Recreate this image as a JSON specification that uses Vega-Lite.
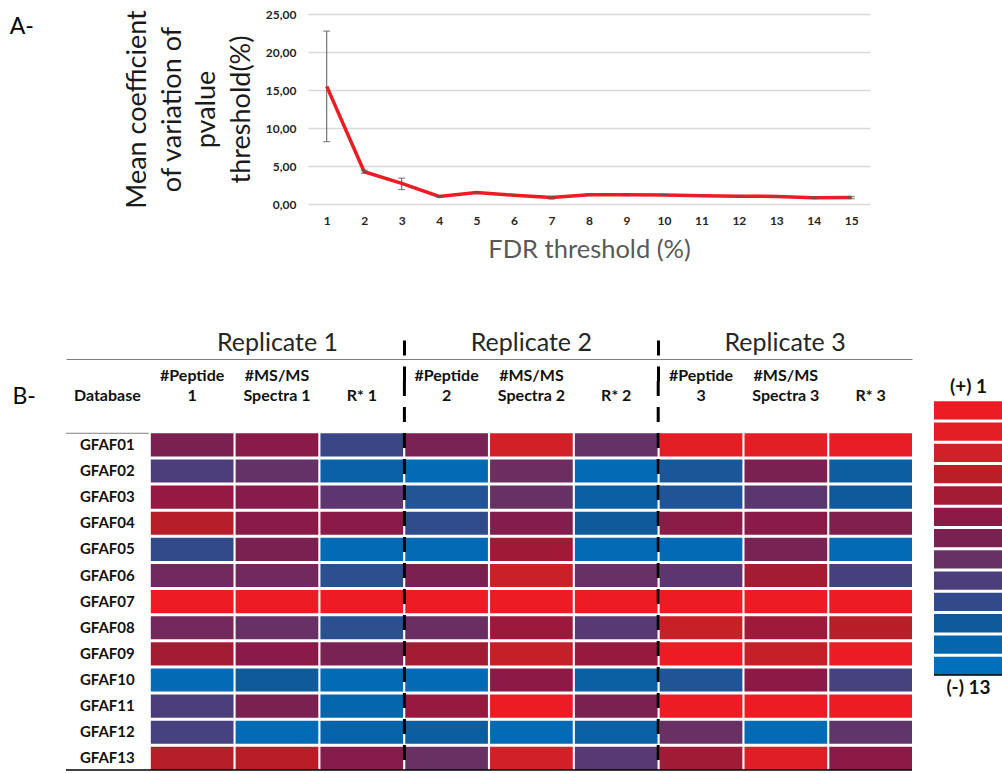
{
  "$schema": "https://vega.github.io/schema/vega-lite/v6.json",
  "padding": {"left": 9, "top": 6, "right": 0, "bottom": 0},
  "background": "white",
  "config": {
    "view": {"stroke": null},
    "font": "Lato",
    "axis": {"labelFont": "Lato", "titleFont": "Lato"},
    "title": {"font": "Lato"},
    "text": {"font": "Lato"}
  },
  "spacing": 65,
  "vconcat": [
    {
      "bounds": "flush",
      "spacing": 0,
      "hconcat": [
        {
          "width": 242,
          "height": 190,
          "title": {"text": "A-", "orient": "left", "anchor": "end", "angle": 0, "align": "right", "baseline": "top", "fontSize": 23, "fontWeight": "normal", "color": "#000000", "offset": 8, "dy": 2},
          "data": {"values": [{"panel": "A"}]},
          "mark": {"type": "text"},
          "encoding": {"text": {"value": ""}}
        },
        {
          "width": 562,
          "height": 190,
          "data": {"values": [
            {"fdr": 1, "mean": 15.48, "lo": 8.2, "hi": 22.75},
            {"fdr": 2, "mean": 4.25, "lo": 4.05, "hi": 4.45},
            {"fdr": 3, "mean": 2.72, "lo": 1.9, "hi": 3.4},
            {"fdr": 4, "mean": 1.0, "lo": 0.95, "hi": 1.05},
            {"fdr": 5, "mean": 1.52, "lo": 1.45, "hi": 1.6},
            {"fdr": 6, "mean": 1.15, "lo": 1.1, "hi": 1.2},
            {"fdr": 7, "mean": 0.85, "lo": 0.65, "hi": 1.0},
            {"fdr": 8, "mean": 1.22, "lo": 1.1, "hi": 1.35},
            {"fdr": 9, "mean": 1.22, "lo": 1.1, "hi": 1.35},
            {"fdr": 10, "mean": 1.2, "lo": 1.15, "hi": 1.25},
            {"fdr": 11, "mean": 1.1, "lo": 1.05, "hi": 1.15},
            {"fdr": 12, "mean": 1.02, "lo": 0.9, "hi": 1.12},
            {"fdr": 13, "mean": 1.0, "lo": 0.92, "hi": 1.1},
            {"fdr": 14, "mean": 0.83, "lo": 0.7, "hi": 0.95},
            {"fdr": 15, "mean": 0.85, "lo": 0.7, "hi": 0.98}
          ]},
          "transform": [{"fold": ["mean", "lo", "hi"], "as": ["kind", "cv"]}],
          "encoding": {
            "x": {"field": "fdr", "type": "ordinal", "scale": {"type": "point", "padding": 0.5},
              "axis": {"labelAngle": 0, "labelFontSize": 12, "labelFontWeight": "bold", "labelColor": "#262626", "labelPadding": 11, "ticks": false, "domain": false, "grid": false,
                "title": "FDR threshold (%)", "titleFontSize": 25.5, "titleFontWeight": "normal", "titleColor": "#595959", "titlePadding": 11}},
            "y": {"field": "cv", "type": "quantitative", "scale": {"domain": [0, 25], "nice": false, "zero": true},
              "axis": {"values": [0, 5, 10, 15, 20, 25], "labelExpr": "replace(format(datum.value, '.2f'), '.', ',')", "labelFontSize": 12, "labelFontWeight": "bold", "labelColor": "#262626", "labelPadding": 12, "ticks": false, "domain": false, "grid": true, "gridColor": "#D9D9D9", "gridWidth": 1.5,
                "title": ["Mean  coefficient", "of variation of", "pvalue", "threshold(%)"], "titleFontSize": 27, "titleFontWeight": "normal", "titleColor": "#1a1a1a", "titleLineHeight": 34.5, "titlePadding": 10}}
          },
          "layer": [
            {"transform": [{"filter": "datum.kind !== 'mean'"}], "mark": {"type": "line", "color": "#595959", "strokeWidth": 1}, "encoding": {"detail": {"field": "fdr", "type": "ordinal"}}},
            {"transform": [{"filter": "datum.kind === 'mean'"}], "mark": {"type": "line", "color": "#ED1C24", "strokeWidth": 3.5}},
            {"transform": [{"filter": "datum.kind !== 'mean'"}], "mark": {"type": "tick", "color": "#595959", "size": 7, "thickness": 1.2}}
          ]
        }
      ]
    },
    {
      "bounds": "flush",
      "spacing": 22,
      "hconcat": [
        {
          "width": 846,
          "height": 389,
          "title": {"text": "B-", "orient": "left", "anchor": "end", "angle": 0, "align": "right", "baseline": "top", "fontSize": 23, "fontWeight": "normal", "color": "#000000", "offset": 6, "dy": 57},
          "resolve": {"scale": {"x": "independent"}},
          "layer": [
            {
              "data": {"values": [
                {"db": "GFAF01", "col": "#Peptide 1", "score": 7}, {"db": "GFAF01", "col": "#MS/MS Spectra 1", "score": 6.2}, {"db": "GFAF01", "col": "R* 1", "score": 9.7}, {"db": "GFAF01", "col": "#Peptide 2", "score": 7.1}, {"db": "GFAF01", "col": "#MS/MS Spectra 2", "score": 3}, {"db": "GFAF01", "col": "R* 2", "score": 8.1}, {"db": "GFAF01", "col": "#Peptide 3", "score": 2}, {"db": "GFAF01", "col": "#MS/MS Spectra 3", "score": 2}, {"db": "GFAF01", "col": "R* 3", "score": 1.5},
                {"db": "GFAF02", "col": "#Peptide 1", "score": 9}, {"db": "GFAF02", "col": "#MS/MS Spectra 1", "score": 8.1}, {"db": "GFAF02", "col": "R* 1", "score": 11.7}, {"db": "GFAF02", "col": "#Peptide 2", "score": 12.5}, {"db": "GFAF02", "col": "#MS/MS Spectra 2", "score": 7.7}, {"db": "GFAF02", "col": "R* 2", "score": 12.5}, {"db": "GFAF02", "col": "#Peptide 3", "score": 10.8}, {"db": "GFAF02", "col": "#MS/MS Spectra 3", "score": 7}, {"db": "GFAF02", "col": "R* 3", "score": 11.3},
                {"db": "GFAF03", "col": "#Peptide 1", "score": 5.7}, {"db": "GFAF03", "col": "#MS/MS Spectra 1", "score": 6.4}, {"db": "GFAF03", "col": "R* 1", "score": 8.4}, {"db": "GFAF03", "col": "#Peptide 2", "score": 10.6}, {"db": "GFAF03", "col": "#MS/MS Spectra 2", "score": 8}, {"db": "GFAF03", "col": "R* 2", "score": 11.5}, {"db": "GFAF03", "col": "#Peptide 3", "score": 10.7}, {"db": "GFAF03", "col": "#MS/MS Spectra 3", "score": 8.5}, {"db": "GFAF03", "col": "R* 3", "score": 11},
                {"db": "GFAF04", "col": "#Peptide 1", "score": 4.2}, {"db": "GFAF04", "col": "#MS/MS Spectra 1", "score": 6.2}, {"db": "GFAF04", "col": "R* 1", "score": 6.2}, {"db": "GFAF04", "col": "#Peptide 2", "score": 10.1}, {"db": "GFAF04", "col": "#MS/MS Spectra 2", "score": 6.5}, {"db": "GFAF04", "col": "R* 2", "score": 11}, {"db": "GFAF04", "col": "#Peptide 3", "score": 6.1}, {"db": "GFAF04", "col": "#MS/MS Spectra 3", "score": 6.2}, {"db": "GFAF04", "col": "R* 3", "score": 6.7},
                {"db": "GFAF05", "col": "#Peptide 1", "score": 10}, {"db": "GFAF05", "col": "#MS/MS Spectra 1", "score": 7}, {"db": "GFAF05", "col": "R* 1", "score": 12.5}, {"db": "GFAF05", "col": "#Peptide 2", "score": 12.5}, {"db": "GFAF05", "col": "#MS/MS Spectra 2", "score": 5.2}, {"db": "GFAF05", "col": "R* 2", "score": 12.5}, {"db": "GFAF05", "col": "#Peptide 3", "score": 12.5}, {"db": "GFAF05", "col": "#MS/MS Spectra 3", "score": 7.1}, {"db": "GFAF05", "col": "R* 3", "score": 12.5},
                {"db": "GFAF06", "col": "#Peptide 1", "score": 7.5}, {"db": "GFAF06", "col": "#MS/MS Spectra 1", "score": 7.5}, {"db": "GFAF06", "col": "R* 1", "score": 10.3}, {"db": "GFAF06", "col": "#Peptide 2", "score": 7}, {"db": "GFAF06", "col": "#MS/MS Spectra 2", "score": 3.3}, {"db": "GFAF06", "col": "R* 2", "score": 8}, {"db": "GFAF06", "col": "#Peptide 3", "score": 8.4}, {"db": "GFAF06", "col": "#MS/MS Spectra 3", "score": 5}, {"db": "GFAF06", "col": "R* 3", "score": 9.2},
                {"db": "GFAF07", "col": "#Peptide 1", "score": 1}, {"db": "GFAF07", "col": "#MS/MS Spectra 1", "score": 1}, {"db": "GFAF07", "col": "R* 1", "score": 1}, {"db": "GFAF07", "col": "#Peptide 2", "score": 1}, {"db": "GFAF07", "col": "#MS/MS Spectra 2", "score": 1}, {"db": "GFAF07", "col": "R* 2", "score": 1}, {"db": "GFAF07", "col": "#Peptide 3", "score": 1}, {"db": "GFAF07", "col": "#MS/MS Spectra 3", "score": 1}, {"db": "GFAF07", "col": "R* 3", "score": 1},
                {"db": "GFAF08", "col": "#Peptide 1", "score": 7.4}, {"db": "GFAF08", "col": "#MS/MS Spectra 1", "score": 8}, {"db": "GFAF08", "col": "R* 1", "score": 10.3}, {"db": "GFAF08", "col": "#Peptide 2", "score": 7.8}, {"db": "GFAF08", "col": "#MS/MS Spectra 2", "score": 5.4}, {"db": "GFAF08", "col": "R* 2", "score": 8.6}, {"db": "GFAF08", "col": "#Peptide 3", "score": 3.4}, {"db": "GFAF08", "col": "#MS/MS Spectra 3", "score": 5.3}, {"db": "GFAF08", "col": "R* 3", "score": 4.1},
                {"db": "GFAF09", "col": "#Peptide 1", "score": 5}, {"db": "GFAF09", "col": "#MS/MS Spectra 1", "score": 6.2}, {"db": "GFAF09", "col": "R* 1", "score": 7.1}, {"db": "GFAF09", "col": "#Peptide 2", "score": 5}, {"db": "GFAF09", "col": "#MS/MS Spectra 2", "score": 3.5}, {"db": "GFAF09", "col": "R* 2", "score": 5.6}, {"db": "GFAF09", "col": "#Peptide 3", "score": 1}, {"db": "GFAF09", "col": "#MS/MS Spectra 3", "score": 3.5}, {"db": "GFAF09", "col": "R* 3", "score": 1},
                {"db": "GFAF10", "col": "#Peptide 1", "score": 12.5}, {"db": "GFAF10", "col": "#MS/MS Spectra 1", "score": 11}, {"db": "GFAF10", "col": "R* 1", "score": 12.5}, {"db": "GFAF10", "col": "#Peptide 2", "score": 12.5}, {"db": "GFAF10", "col": "#MS/MS Spectra 2", "score": 6}, {"db": "GFAF10", "col": "R* 2", "score": 11.5}, {"db": "GFAF10", "col": "#Peptide 3", "score": 10.7}, {"db": "GFAF10", "col": "#MS/MS Spectra 3", "score": 6}, {"db": "GFAF10", "col": "R* 3", "score": 9.3},
                {"db": "GFAF11", "col": "#Peptide 1", "score": 9}, {"db": "GFAF11", "col": "#MS/MS Spectra 1", "score": 7}, {"db": "GFAF11", "col": "R* 1", "score": 12}, {"db": "GFAF11", "col": "#Peptide 2", "score": 5.6}, {"db": "GFAF11", "col": "#MS/MS Spectra 2", "score": 1}, {"db": "GFAF11", "col": "R* 2", "score": 7}, {"db": "GFAF11", "col": "#Peptide 3", "score": 1}, {"db": "GFAF11", "col": "#MS/MS Spectra 3", "score": 1}, {"db": "GFAF11", "col": "R* 3", "score": 1},
                {"db": "GFAF12", "col": "#Peptide 1", "score": 9.3}, {"db": "GFAF12", "col": "#MS/MS Spectra 1", "score": 12.5}, {"db": "GFAF12", "col": "R* 1", "score": 11.8}, {"db": "GFAF12", "col": "#Peptide 2", "score": 11.3}, {"db": "GFAF12", "col": "#MS/MS Spectra 2", "score": 12.5}, {"db": "GFAF12", "col": "R* 2", "score": 11.6}, {"db": "GFAF12", "col": "#Peptide 3", "score": 7.9}, {"db": "GFAF12", "col": "#MS/MS Spectra 3", "score": 12.5}, {"db": "GFAF12", "col": "R* 3", "score": 8.3},
                {"db": "GFAF13", "col": "#Peptide 1", "score": 4.2}, {"db": "GFAF13", "col": "#MS/MS Spectra 1", "score": 4.1}, {"db": "GFAF13", "col": "R* 1", "score": 6.4}, {"db": "GFAF13", "col": "#Peptide 2", "score": 7.9}, {"db": "GFAF13", "col": "#MS/MS Spectra 2", "score": 3}, {"db": "GFAF13", "col": "R* 2", "score": 8.6}, {"db": "GFAF13", "col": "#Peptide 3", "score": 5.1}, {"db": "GFAF13", "col": "#MS/MS Spectra 3", "score": 2.2}, {"db": "GFAF13", "col": "R* 3", "score": 6}
              ]},
              "layer": [
                {
                  "mark": {"type": "rect"},
                  "encoding": {
                    "x": {"field": "col", "type": "nominal",
                      "scale": {"domain": ["Database", "#Peptide 1", "#MS/MS Spectra 1", "R* 1", "#Peptide 2", "#MS/MS Spectra 2", "R* 2", "#Peptide 3", "#MS/MS Spectra 3", "R* 3"], "paddingInner": 0.025, "paddingOuter": 0},
                      "axis": {"orient": "top", "offset": 22, "title": null, "ticks": false, "tickSize": 0, "domain": true, "domainColor": "#808080", "domainWidth": 1,
                        "labelPadding": -24, "labelBaseline": "bottom", "labelLineHeight": 20, "labelFontSize": 16, "labelFontWeight": "bold", "labelColor": "#111111", "labelAngle": 0, "labelOverlap": false,
                        "labelExpr": "indexof(datum.label, '#') === 0 ? [substring(datum.label, 0, indexof(datum.label, ' ')), substring(datum.label, indexof(datum.label, ' ') + 1)] : ['', datum.label]"}},
                    "y": {"field": "db", "type": "nominal",
                      "scale": {"domain": ["GFAF01", "GFAF02", "GFAF03", "GFAF04", "GFAF05", "GFAF06", "GFAF07", "GFAF08", "GFAF09", "GFAF10", "GFAF11", "GFAF12", "GFAF13"], "paddingInner": 0.115, "paddingOuter": 1, "align": 1},
                      "axis": null},
                    "color": {"field": "score", "type": "quantitative",
                      "scale": {"domain": [1, 2, 3, 4, 5, 6, 7, 8, 9, 10, 11, 12, 13], "range": ["#ED1C24", "#E31E25", "#D12027", "#BA1F26", "#A41C34", "#8D1A46", "#7B2152", "#673165", "#4B3E7A", "#324A8A", "#0F5A9B", "#0566AE", "#0070BD"]},
                      "legend": null}
                  }
                },
                {
                  "transform": [{"filter": "datum.col === '#Peptide 1'"}],
                  "mark": {"type": "text", "fontSize": 15, "fontWeight": "bold", "color": "#111111"},
                  "encoding": {
                    "x": {"datum": "Database", "type": "nominal"},
                    "y": {"field": "db", "type": "nominal", "axis": null},
                    "text": {"field": "db"}
                  }
                },
                {
                  "data": {"values": [{"line": "top"}]},
                  "mark": {"type": "rule", "color": "#808080", "strokeWidth": 1},
                  "encoding": {
                    "x": {"datum": "Database", "type": "nominal", "bandPosition": 0},
                    "x2": {"datum": "Database", "bandPosition": 1},
                    "y": {"datum": "GFAF01", "type": "nominal", "bandPosition": 0, "axis": null}
                  }
                },
                {
                  "data": {"values": [{"line": "bottom"}]},
                  "mark": {"type": "rule", "color": "#000000", "strokeWidth": 1.5},
                  "encoding": {
                    "x": {"datum": "Database", "type": "nominal", "bandPosition": 0},
                    "x2": {"datum": "R* 3", "bandPosition": 1},
                    "y": {"datum": "GFAF13", "type": "nominal", "bandPosition": 1, "axis": null}
                  }
                }
              ]
            },
            {
              "data": {"values": [{"replicate": "Replicate 2"}, {"replicate": "Replicate 3"}]},
              "mark": {"type": "rule", "color": "#000000", "strokeWidth": 3, "strokeDash": [15, 11]},
              "encoding": {
                "x": {"field": "replicate", "type": "nominal", "bandPosition": 0,
                  "scale": {"domain": ["Replicate 1", "Replicate 2", "Replicate 3"], "paddingInner": 0, "paddingOuter": 0.1667, "align": 1},
                  "axis": {"orient": "top", "offset": 0, "title": null, "values": ["Replicate 1", "Replicate 2", "Replicate 3"], "bandPosition": 0, "domain": false, "grid": false,
                    "ticks": true, "tickSize": 51, "tickWidth": 3, "tickColor": "#000000", "tickDash": [15, 11],
                    "tickOpacity": {"condition": {"test": "datum.value === 'Replicate 1'", "value": 0}, "value": 1},
                    "labelPadding": -12, "labelBaseline": "middle", "labelAlign": "center", "labelFontSize": 25, "labelFontWeight": "normal", "labelColor": "#262626", "labelAngle": 0, "labelOverlap": false}}
              }
            }
          ]
        },
        {
          "width": 69,
          "height": 294,
          "layer": [
            {
              "data": {"values": [{"rank": 1}, {"rank": 2}, {"rank": 3}, {"rank": 4}, {"rank": 5}, {"rank": 6}, {"rank": 7}, {"rank": 8}, {"rank": 9}, {"rank": 10}, {"rank": 11}, {"rank": 12}, {"rank": 13}]},
              "mark": {"type": "rect"},
              "encoding": {
                "y": {"field": "rank", "type": "ordinal", "scale": {"domain": [1, 2, 3, 4, 5, 6, 7, 8, 9, 10, 11, 12, 13], "paddingInner": 0.14, "paddingOuter": 0.474, "align": 1}, "axis": null},
                "color": {"field": "rank", "type": "quantitative",
                  "scale": {"domain": [1, 2, 3, 4, 5, 6, 7, 8, 9, 10, 11, 12, 13], "range": ["#ED1C24", "#E31E25", "#D12027", "#BA1F26", "#A41C34", "#8D1A46", "#7B2152", "#673165", "#4B3E7A", "#324A8A", "#0F5A9B", "#0566AE", "#0070BD"]},
                  "legend": null}
              }
            },
            {
              "data": {"values": [{"label": "(+) 1"}]},
              "mark": {"type": "text", "baseline": "bottom", "dy": -4, "fontSize": 19, "fontWeight": "bold", "color": "#111111"},
              "encoding": {
                "y": {"datum": 1, "type": "ordinal", "bandPosition": 0, "axis": null},
                "text": {"field": "label"}
              }
            },
            {
              "data": {"values": [{"label": "(-) 13"}]},
              "mark": {"type": "text", "baseline": "top", "dy": 4, "fontSize": 19, "fontWeight": "bold", "color": "#111111"},
              "encoding": {
                "y": {"datum": 13, "type": "ordinal", "bandPosition": 1, "axis": null},
                "text": {"field": "label"}
              }
            },
            {
              "data": {"values": [{"line": "bottom"}]},
              "mark": {"type": "rule", "color": "#000000", "strokeWidth": 1.5},
              "encoding": {
                "y": {"datum": 13, "type": "ordinal", "bandPosition": 1, "axis": null}
              }
            }
          ]
        }
      ]
    }
  ]
}
